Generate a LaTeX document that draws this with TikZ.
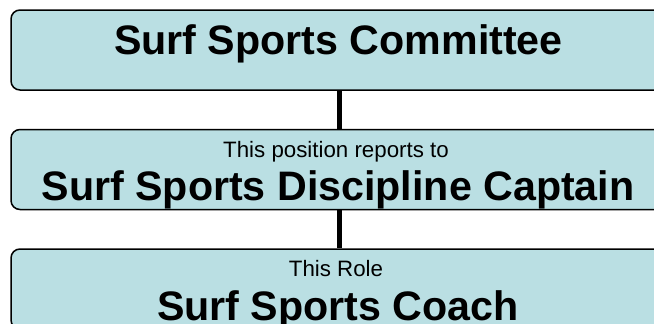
\documentclass[tikz,border=0pt]{standalone}
\usepackage{fontspec}
\setmainfont{Liberation Sans}
\usepackage{tikz}
\usetikzlibrary{positioning}

\definecolor{rolefill}{RGB}{186,223,227}

\tikzset{
  rolebox/.style={draw=black, line width=1.5pt, fill=rolefill, rounded corners=9pt,
    minimum width=656pt, minimum height=80pt, inner sep=0pt},
  roletitle/.style={anchor=base, inner sep=0pt, font=\fontsize{41.2}{48}\selectfont\bfseries},
  rolenote/.style={anchor=base, inner sep=0pt, font=\fontsize{22.3}{26}\selectfont},
  link/.style={line width=5pt, black}
}

\begin{document}
\begin{tikzpicture}[x=1pt, y=-1pt]
            \useasboundingbox (0,0) rectangle (654,324);
            \clip (0,0) rectangle (654,324);

            % the three boxes, one under the other
            \node[rolebox] (committee) at (339,50) {};
            \node[rolebox] (captain) at (339,169.5) {};
            \node[rolebox] (coach) at (339,289) {};

            % connectors
            \draw[link] (committee) -- (captain);
            \draw[link] (captain) -- (coach);

            % texts
            \node[roletitle] (committee-title) at (338.5,54) {Surf Sports Committee};
            \node[rolenote] (captain-note) at (336,157) {This position reports to};
            \node[roletitle] (captain-title) at (338,200) {Surf Sports Discipline Captain};
            \node[rolenote] (coach-note) at (336,276) {This Role};
            \node[roletitle] (coach-title) at (338,320) {Surf Sports Coach};
        \end{tikzpicture}
\end{document}
